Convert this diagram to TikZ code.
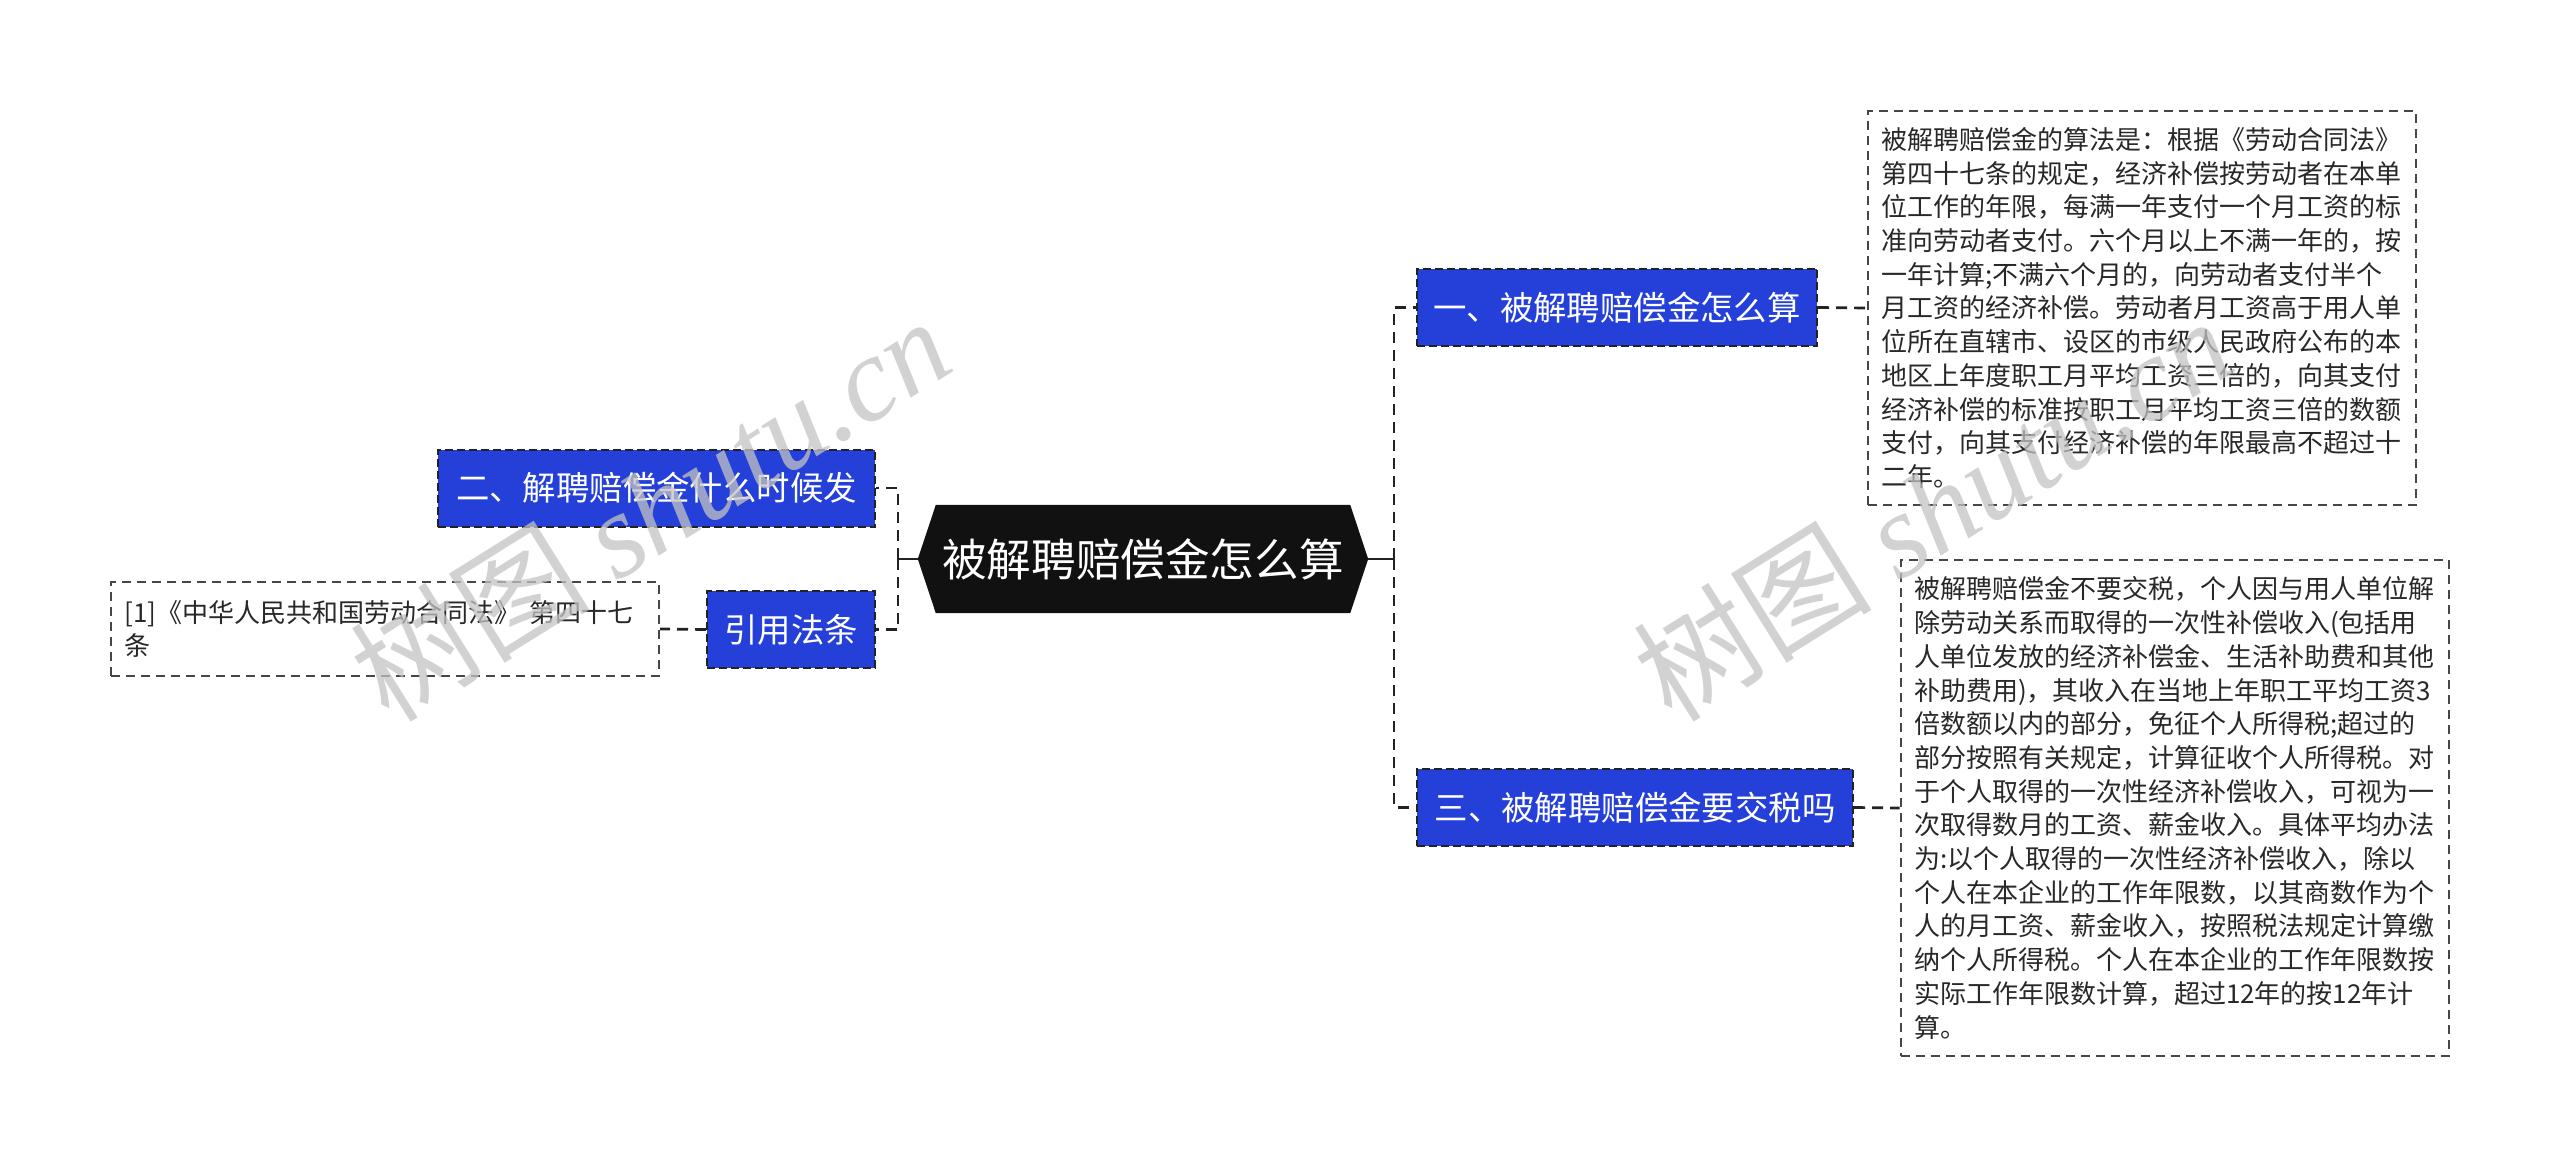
\documentclass[tikz,border=0pt]{standalone}
\usepackage{fontspec}
\setmainfont{Noto Sans CJK SC}
\newfontfamily\wmlatin{Liberation Serif}
\usetikzlibrary{backgrounds}
\definecolor{nodeblue}{RGB}{37,64,217}
\definecolor{centralfill}{RGB}{17,17,17}
\definecolor{linecol}{RGB}{34,34,34}
\definecolor{boxline}{RGB}{70,70,70}
\definecolor{boxtext}{RGB}{40,40,40}
\definecolor{wmcol}{RGB}{195,195,195}
\begin{document}
\begin{tikzpicture}[x=1pt,y=-1pt,
  branch/.style={draw=linecol, dash pattern=on 8pt off 4pt, line width=2pt,
    fill=nodeblue, text=white, font=\fontsize{33.4}{40}\selectfont,
    minimum height=77pt, inner xsep=16.5pt, inner ysep=0pt},
  central/.style={text=white, font=\fontsize{44.6}{50}\selectfont,
    minimum width=450pt, minimum height=108pt, inner sep=0pt},
  textbox/.style={draw=boxline, dash pattern=on 9pt off 6pt, line width=2pt,
    fill=white, text=boxtext, font=\fontsize{26}{33.7}\selectfont,
    align=left, text width=521pt, inner xsep=13.5pt, inner ysep=0pt},
  conn/.style={draw=linecol, line width=2.7pt, dash pattern=on 11pt off 7pt},
  stub/.style={draw=linecol, line width=2.7pt},
  wm/.style={text=wmcol, opacity=0.75, font=\fontsize{120}{128}\selectfont, inner sep=0pt}
]
\begin{scope}[on background layer]
  \fill[white] (0,0) rectangle (2560,1169);
\end{scope}
\useasboundingbox (0,0) rectangle (2560,1169);

% central node
\node[central] (c) at (1143,559) {被解聘赔偿金怎么算};
\begin{scope}[on background layer]
  \fill[centralfill] (c.west) -- ([xshift=18pt]c.north west) -- ([xshift=-18pt]c.north east)
    -- (c.east) -- ([xshift=-18pt]c.south east) -- ([xshift=18pt]c.south west) -- cycle;
\end{scope}

% branch nodes
\node[branch, minimum width=400pt] (n1) at (1617,307.5) {一、被解聘赔偿金怎么算};
\node[branch, minimum width=436pt] (n3) at (1635,807.5) {三、被解聘赔偿金要交税吗};
\node[branch, minimum width=437pt] (n2) at (656.5,488) {二、解聘赔偿金什么时候发};
\node[branch, minimum width=168pt] (n4) at (791,629.5) {引用法条};

% text boxes
\node[textbox, minimum height=394pt] (b1) at (2142,308) {被解聘赔偿金的算法是：根据《劳动合同法》\\
第四十七条的规定，经济补偿按劳动者在本单\\
位工作的年限，每满一年支付一个月工资的标\\
准向劳动者支付。六个月以上不满一年的，按\\
一年计算;不满六个月的，向劳动者支付半个\\
月工资的经济补偿。劳动者月工资高于用人单\\
位所在直辖市、设区的市级人民政府公布的本\\
地区上年度职工月平均工资三倍的，向其支付\\
经济补偿的标准按职工月平均工资三倍的数额\\
支付，向其支付经济补偿的年限最高不超过十\\
二年。};

\node[textbox, minimum height=496pt] (b3) at (2174.5,808) {被解聘赔偿金不要交税，个人因与用人单位解\\
除劳动关系而取得的一次性补偿收入(包括用\\
人单位发放的经济补偿金、生活补助费和其他\\
补助费用)，其收入在当地上年职工平均工资3\\
倍数额以内的部分，免征个人所得税;超过的\\
部分按照有关规定，计算征收个人所得税。对\\
于个人取得的一次性经济补偿收入，可视为一\\
次取得数月的工资、薪金收入。具体平均办法\\
为:以个人取得的一次性经济补偿收入，除以\\
个人在本企业的工作年限数，以其商数作为个\\
人的月工资、薪金收入，按照税法规定计算缴\\
纳个人所得税。个人在本企业的工作年限数按\\
实际工作年限数计算，超过12年的按12年计\\
算。};

\node[textbox, minimum height=94pt] (b4) at (385,629) {[1]《中华人民共和国劳动合同法》 第四十七\\
条};

% connectors
\coordinate (rj) at (1394,559);
\coordinate (lj) at (898,559);
\draw[stub] (c.east) -- (rj);
\draw[stub] (c.west) -- (lj);
\draw[conn] (rj) |- (n1.west);
\draw[conn] (rj) |- (n3.west);
\draw[conn] (lj) |- (n2.east);
\draw[conn] (lj) |- (n4.east);
\draw[conn] (n1.east) -- (b1.west);
\draw[conn] (n3.east) -- (b3.west);
\draw[conn] (n4.west) -- (b4.east);

% watermarks
\node[wm, rotate=32] (w1) at (650,508) {树图 {\wmlatin\itshape shutu.cn}};
\node[wm, rotate=32] (w2) at (1932,508) {树图 {\wmlatin\itshape shutu.cn}};
\end{tikzpicture}
\end{document}
